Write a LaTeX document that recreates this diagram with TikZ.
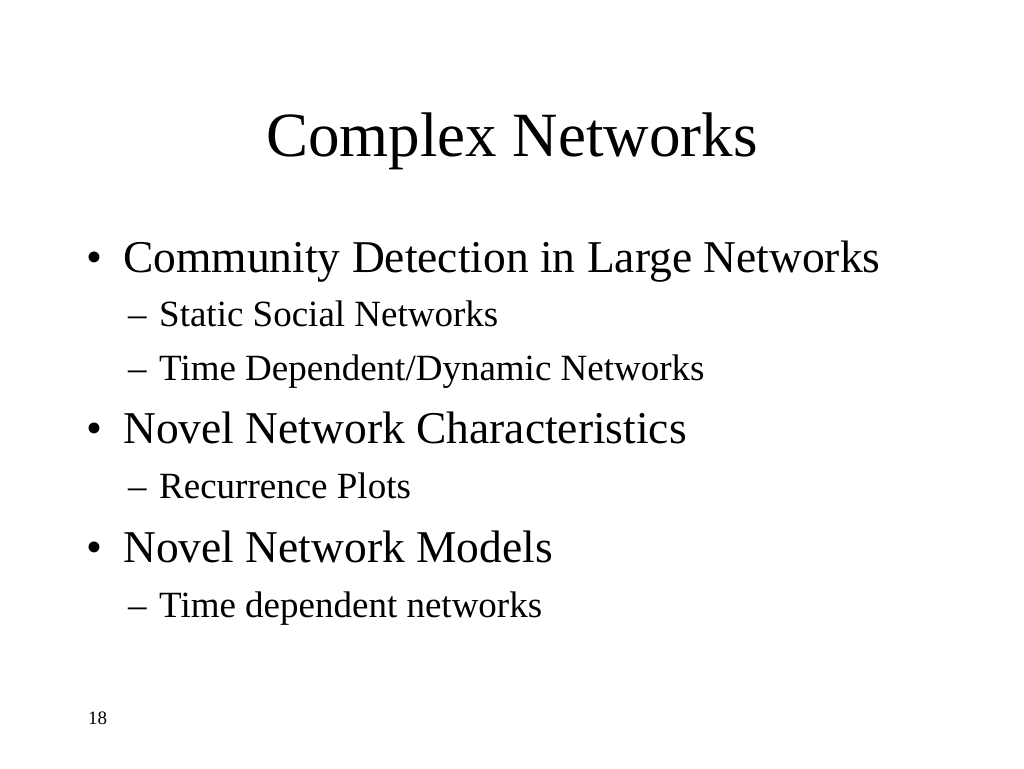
\documentclass[tikz,border=0pt]{standalone}
\usepackage{fontspec}
\setmainfont{Liberation Serif}
\tikzset{
  slidetitle/.style = {anchor=base, inner sep=0pt, font=\fontsize{63}{70}\selectfont},
  mainitem/.style = {anchor=base west, inner sep=0pt, font=\fontsize{45.5}{52}\selectfont},
  subitem/.style = {anchor=base west, inner sep=0pt, font=\fontsize{37}{44}\selectfont},
  pagenum/.style = {anchor=base west, inner sep=0pt, font=\fontsize{19}{22}\selectfont}
}
\begin{document}
\begin{tikzpicture}[x = 1pt, y = -1pt]
		\useasboundingbox[fill=white] (0,0) rectangle (1024,768);
		\node[slidetitle] (title) at (512,156) {Complex Networks};
		% first bullet
		\node[mainitem] (b1) at (86,272) {\textbullet};
		\node[mainitem] (community) at (123,272) {Community Detection in Large Networks};
		\node[subitem] (d1) at (128,326) {–};
		\node[subitem] (static) at (159,326) {Static Social Networks};
		\node[subitem] (d2) at (128,380) {–};
		\node[subitem] (dynamic) at (159,380) {Time Dependent/Dynamic Networks};
		% second bullet
		\node[mainitem] (b2) at (86,443) {\textbullet};
		\node[mainitem] (characteristics) at (123,443) {Novel Network Characteristics};
		\node[subitem] (d3) at (128,498) {–};
		\node[subitem] (recurrence) at (159,498) {Recurrence Plots};
		% third bullet
		\node[mainitem] (b3) at (86,562) {\textbullet};
		\node[mainitem] (models) at (123,562) {Novel Network Models};
		\node[subitem] (d4) at (128,617) {–};
		\node[subitem] (timedep) at (159,617) {Time dependent networks};
		\node[pagenum] (page) at (88,724) {18};
	\end{tikzpicture}
\end{document}
